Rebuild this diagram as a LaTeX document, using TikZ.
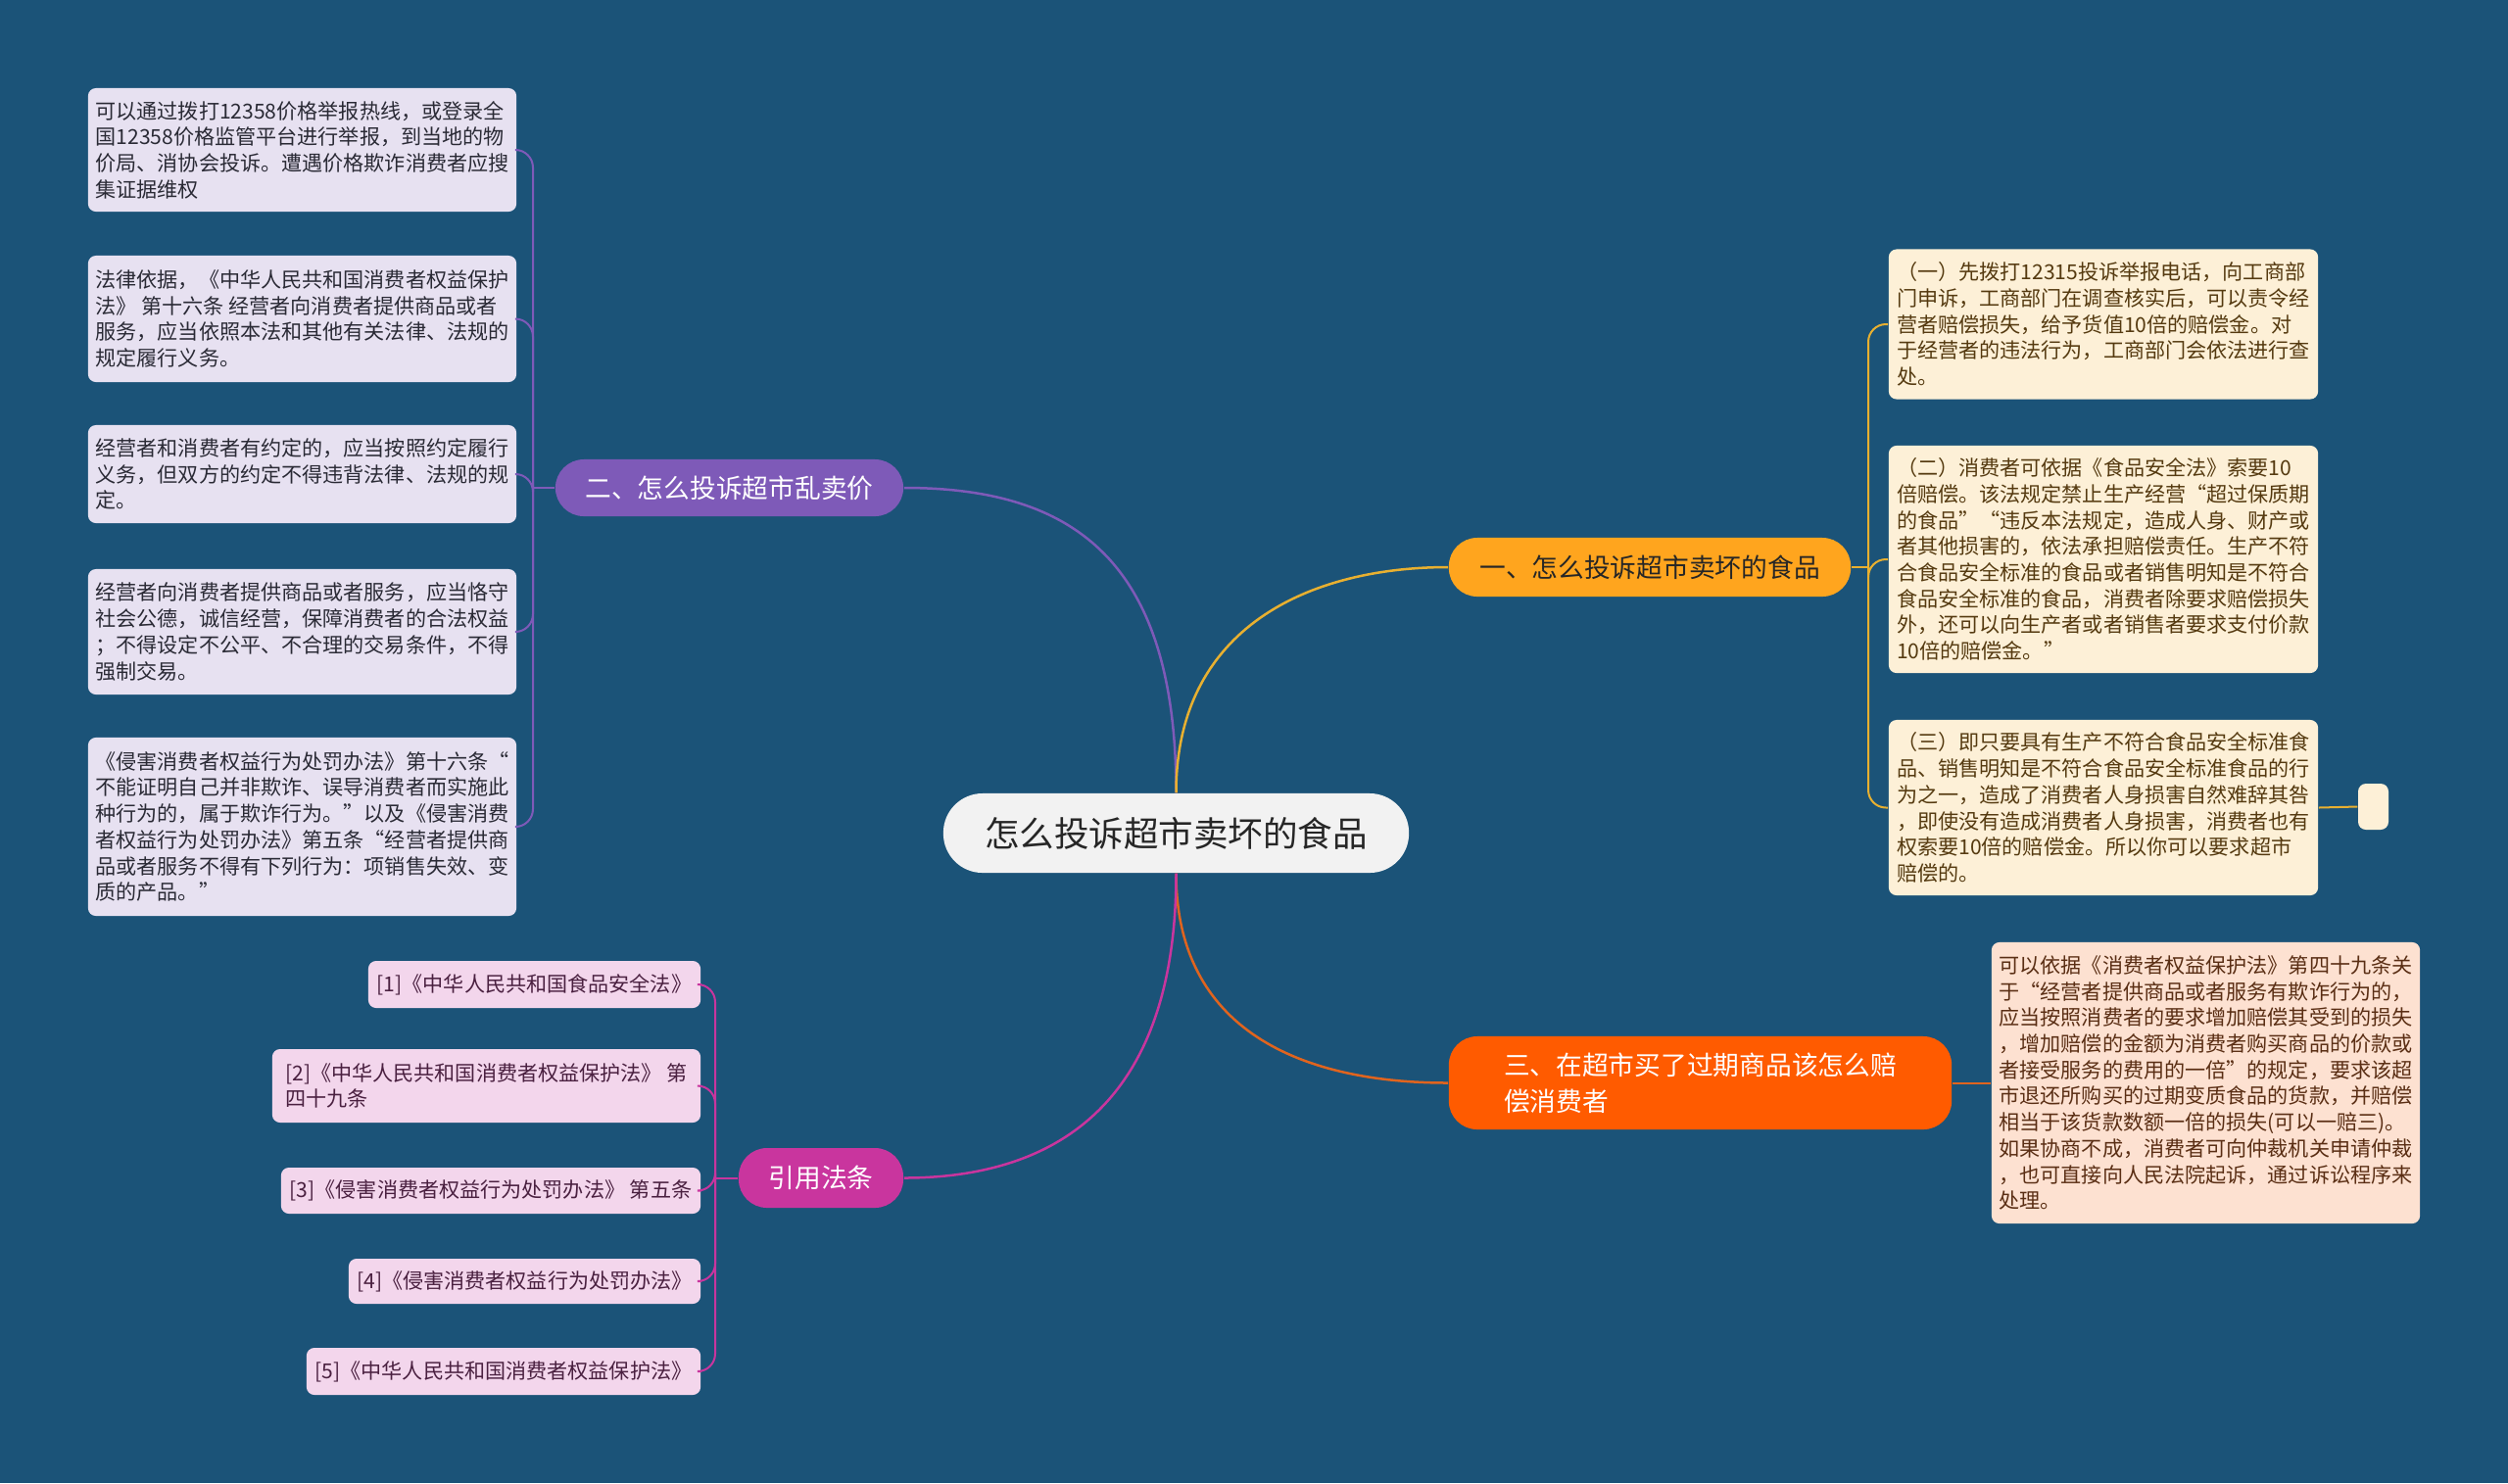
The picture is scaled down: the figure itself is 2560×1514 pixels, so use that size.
\documentclass[tikz,border=0pt]{standalone}
\usepackage{fontspec}
\setmainfont{Noto Sans CJK SC}
\definecolor{bg}{HTML}{1B5378}
\definecolor{centerfill}{HTML}{F2F2F2}
\definecolor{bOne}{HTML}{FFA51E}
\definecolor{bTwo}{HTML}{7E5AB8}
\definecolor{bThree}{HTML}{FF5B00}
\definecolor{bFour}{HTML}{C9359E}
\definecolor{lOne}{HTML}{E8B030}
\definecolor{lTwo}{HTML}{7E5AB8}
\definecolor{lThree}{HTML}{E0641E}
\definecolor{lFour}{HTML}{C9359E}
\definecolor{fOne}{HTML}{FDF0D7}
\definecolor{fTwo}{HTML}{E7E1F1}
\definecolor{fThree}{HTML}{FDE1D1}
\definecolor{fFour}{HTML}{F3D6EC}
\definecolor{tOne}{HTML}{553A10}
\definecolor{tTwo}{HTML}{2A2A35}
\definecolor{tThree}{HTML}{5A2E14}
\definecolor{tFour}{HTML}{4A2040}
\tikzset{
  rootbox/.style={fill=centerfill, rounded corners=0.4cm, inner sep=0pt, text=black!85,
    font=\fontsize{10.1pt}{12pt}\selectfont},
  branchbox/.style={rounded corners=0.29cm, inner sep=0pt, align=left,
    font=\fontsize{7.6pt}{10.6pt}\selectfont},
  leafbox/.style={rounded corners=0.08cm, inner sep=0pt, align=left,
    font=\fontsize{6pt}{7.6pt}\selectfont},
  mainline/.style={line width=0.025cm},
  subline/.style={line width=0.02cm, rounded corners=0.18cm},
}
\begin{document}
\begin{tikzpicture}[x=0.01cm,y=-0.01cm]
\fill[bg] (0,0) rectangle (2560,1514);
\useasboundingbox (0,0) rectangle (2560,1514);

% root
\node[rootbox, minimum width=4.75cm, minimum height=0.81cm] (c) at (1200.5,850.5) {怎么投诉超市卖坏的食品};

% branches
\node[branchbox, fill=bOne, text=black!85, minimum width=4.10cm, minimum height=0.60cm] (b1) at (1684,579) {一、怎么投诉超市卖坏的食品};
\node[branchbox, fill=bTwo, text=white, minimum width=3.55cm, minimum height=0.58cm] (b2) at (744.5,498) {二、怎么投诉超市乱卖价};
\node[branchbox, fill=bThree, text=white, minimum width=5.13cm, minimum height=0.95cm] (b3) at (1735.5,1105.5) {三、在超市买了过期商品该怎么赔\\偿消费者};
\node[branchbox, fill=bFour, text=white, minimum width=1.68cm, minimum height=0.61cm] (b4) at (838,1202.5) {引用法条};

% branch 1 children
\node[leafbox, fill=fOne, text=tOne, minimum width=4.38cm, minimum height=1.53cm] (o1) at (2147,331) {（一）先拨打12315投诉举报电话，向工商部\\门申诉，工商部门在调查核实后，可以责令经\\营者赔偿损失，给予货值10倍的赔偿金。对\\于经营者的违法行为，工商部门会依法进行查\\处。};
\node[leafbox, fill=fOne, text=tOne, minimum width=4.38cm, minimum height=2.32cm] (o2) at (2147,571) {（二）消费者可依据《食品安全法》索要10\\倍赔偿。该法规定禁止生产经营“超过保质期\\的食品”“违反本法规定，造成人身、财产或\\者其他损害的，依法承担赔偿责任。生产不符\\合食品安全标准的食品或者销售明知是不符合\\食品安全标准的食品，消费者除要求赔偿损失\\外，还可以向生产者或者销售者要求支付价款\\10倍的赔偿金。”};
\node[leafbox, fill=fOne, text=tOne, minimum width=4.38cm, minimum height=1.79cm] (o3) at (2147,824.5) {（三）即只要具有生产不符合食品安全标准食\\品、销售明知是不符合食品安全标准食品的行\\为之一，造成了消费者人身损害自然难辞其咎\\，即使没有造成消费者人身损害，消费者也有\\权索要10倍的赔偿金。所以你可以要求超市\\赔偿的。};
\node[leafbox, fill=fOne, minimum width=0.31cm, minimum height=0.47cm] (o3x) at (2422.5,823.5) {};

% branch 2 children
\node[leafbox, fill=fTwo, text=tTwo, minimum width=4.37cm, minimum height=1.26cm] (t1) at (308.5,153) {可以通过拨打12358价格举报热线，或登录全\\国12358价格监管平台进行举报，到当地的物\\价局、消协会投诉。遭遇价格欺诈消费者应搜\\集证据维权};
\node[leafbox, fill=fTwo, text=tTwo, minimum width=4.37cm, minimum height=1.29cm] (t2) at (308.5,325.5) {法律依据，《中华人民共和国消费者权益保护\\法》 第十六条 经营者向消费者提供商品或者\\服务，应当依照本法和其他有关法律、法规的\\规定履行义务。};
\node[leafbox, fill=fTwo, text=tTwo, minimum width=4.37cm, minimum height=1.00cm] (t3) at (308.5,484) {经营者和消费者有约定的，应当按照约定履行\\义务，但双方的约定不得违背法律、法规的规\\定。};
\node[leafbox, fill=fTwo, text=tTwo, minimum width=4.37cm, minimum height=1.28cm] (t4) at (308.5,645) {经营者向消费者提供商品或者服务，应当恪守\\社会公德，诚信经营，保障消费者的合法权益\\；不得设定不公平、不合理的交易条件，不得\\强制交易。};
\node[leafbox, fill=fTwo, text=tTwo, minimum width=4.37cm, minimum height=1.82cm] (t5) at (308.5,844) {《侵害消费者权益行为处罚办法》第十六条“\\不能证明自己并非欺诈、误导消费者而实施此\\种行为的，属于欺诈行为。”以及《侵害消费\\者权益行为处罚办法》第五条“经营者提供商\\品或者服务不得有下列行为：项销售失效、变\\质的产品。”};

% branch 3 child
\node[leafbox, fill=fThree, text=tThree, minimum width=4.37cm, minimum height=2.87cm] (h1) at (2251.5,1105.5) {可以依据《消费者权益保护法》第四十九条关\\于“经营者提供商品或者服务有欺诈行为的，\\应当按照消费者的要求增加赔偿其受到的损失\\，增加赔偿的金额为消费者购买商品的价款或\\者接受服务的费用的一倍”的规定，要求该超\\市退还所购买的过期变质食品的货款，并赔偿\\相当于该货款数额一倍的损失(可以一赔三)。\\如果协商不成，消费者可向仲裁机关申请仲裁\\，也可直接向人民法院起诉，通过诉讼程序来\\处理。};

% branch 4 children
\node[leafbox, fill=fFour, text=tFour, minimum width=3.39cm, minimum height=0.48cm] (r1) at (545.5,1005) {[1]《中华人民共和国食品安全法》};
\node[leafbox, fill=fFour, text=tFour, minimum width=4.37cm, minimum height=0.75cm] (r2) at (496.5,1108.5) {[2]《中华人民共和国消费者权益保护法》 第\\四十九条};
\node[leafbox, fill=fFour, text=tFour, minimum width=4.28cm, minimum height=0.47cm] (r3) at (501,1215.5) {[3]《侵害消费者权益行为处罚办法》 第五条};
\node[leafbox, fill=fFour, text=tFour, minimum width=3.59cm, minimum height=0.46cm] (r4) at (535.5,1308) {[4]《侵害消费者权益行为处罚办法》};
\node[leafbox, fill=fFour, text=tFour, minimum width=4.02cm, minimum height=0.48cm] (r5) at (514,1400) {[5]《中华人民共和国消费者权益保护法》};

% spines
\coordinate (s1) at (1907,579);
\coordinate (s2) at (544,498);
\coordinate (s4) at (730,1202.5);

% main connectors
\draw[mainline, lTwo] (c.north) .. controls +(0,-240) and +(170,0) .. (b2.east);
\draw[mainline, lOne] (c.north) .. controls +(0,-170) and +(-140,0) .. (b1.west);
\draw[mainline, lThree] (c.south) .. controls +(0,160) and +(-150,0) .. (b3.west);
\draw[mainline, lFour] (c.south) .. controls +(0,230) and +(160,0) .. (b4.east);

% branch 1
\draw[subline, lOne] (b1.east) -- (s1);
\draw[subline, lOne] (s1) |- (o1.west);
\draw[subline, lOne] (s1) |- (o2.west);
\draw[subline, lOne] (s1) |- (o3.west);
\draw[subline, lOne] (o3.east) -- (o3x.west);

% branch 2
\draw[subline, lTwo] (b2.west) -- (s2);
\draw[subline, lTwo] (s2) |- (t1.east);
\draw[subline, lTwo] (s2) |- (t2.east);
\draw[subline, lTwo] (s2) |- (t3.east);
\draw[subline, lTwo] (s2) |- (t4.east);
\draw[subline, lTwo] (s2) |- (t5.east);

% branch 3
\draw[subline, lThree] (b3.east) -- (h1.west);

% branch 4
\draw[subline, lFour] (b4.west) -- (s4);
\draw[subline, lFour] (s4) |- (r1.east);
\draw[subline, lFour] (s4) |- (r2.east);
\draw[subline, lFour] (s4) |- (r3.east);
\draw[subline, lFour] (s4) |- (r4.east);
\draw[subline, lFour] (s4) |- (r5.east);
\end{tikzpicture}
\end{document}
